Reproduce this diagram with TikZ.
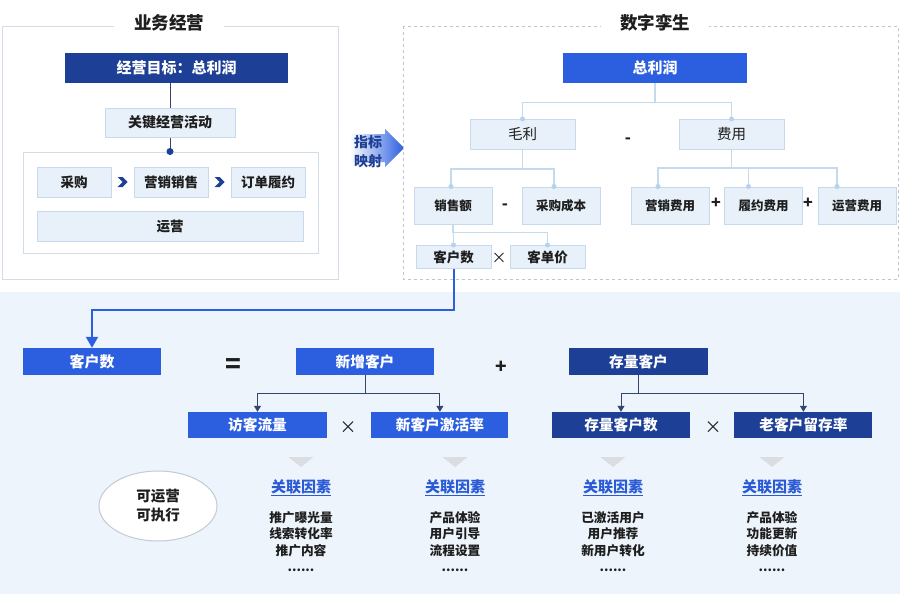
\documentclass[tikz,border=0pt]{standalone}
\usepackage{fontspec}
\setmainfont{Noto Sans CJK SC}
\usepackage{tikz}
\usetikzlibrary{shapes, arrows.meta, positioning, calc}
\definecolor{navy}{HTML}{1D3F95}
\definecolor{brightblue}{HTML}{2C5FE0}
\definecolor{lightfill}{HTML}{E8F1FA}
\definecolor{lightline}{HTML}{C6DAEE}
\definecolor{dotblue}{HTML}{B5D2EE}
\definecolor{framegray}{HTML}{D3DDE8}
\definecolor{dashgray}{HTML}{BFC5CC}
\definecolor{bgblue}{HTML}{EDF4FB}
\definecolor{treegray}{HTML}{34466E}
\definecolor{tipgray}{HTML}{DADEE3}
\definecolor{linkblue}{HTML}{2A5AD6}
\definecolor{textdark}{HTML}{1E1E1E}
\newcommand{\pxfont}[2]{\fontsize{#1}{#2}\selectfont}
\tikzstyle{darkbox} = [rectangle, fill=navy, text=white, inner sep=0pt, font=\pxfont{14.7}{15}\bfseries]
\tikzstyle{bluebox} = [rectangle, fill=brightblue, text=white, inner sep=0pt, font=\pxfont{14.7}{15}\bfseries]
\tikzstyle{block} = [rectangle, draw=lightline, fill=lightfill, line width=1pt, text=textdark, inner sep=0pt, font=\pxfont{13.5}{14}\bfseries]
\tikzstyle{smallblock} = [block, font=\pxfont{12.5}{13}\bfseries]
\tikzstyle{title} = [fill=white, inner ysep=0pt, inner xsep=20pt, text=textdark, font=\pxfont{17.5}{18}\bfseries]
\tikzstyle{sign} = [inner sep=0pt, text=textdark, font=\pxfont{16}{16}\bfseries]
\tikzstyle{treeline} = [draw=lightline, line width=1.2pt]
\tikzstyle{treedot} = [circle, fill=dotblue, inner sep=0pt, minimum size=5pt]
\tikzstyle{branch} = [draw=treegray, line width=1pt, -{Triangle[width=7pt,length=6pt]}]
\tikzstyle{bluelink} = [draw=brightblue, line width=2pt, -{Triangle[width=12pt,length=11pt]}]
\tikzstyle{linktext} = [inner sep=0pt, text=linkblue, font=\pxfont{15}{15}\bfseries]
\tikzstyle{itemtext} = [inner sep=0pt, anchor=north, align=center, text=textdark, font=\pxfont{12.7}{16.5}\bfseries]

\begin{document}
\begin{tikzpicture}[x=1pt, y=-1pt]
		\useasboundingbox (0,0) rectangle (900,594);
		\fill[white] (0,0) rectangle (900,594);
		\fill[bgblue] (0,292) rectangle (900,594);
		
		\draw[framegray, line width=1pt] (2,27) rectangle (338,279);
		\node[title] (leftTitle) at (169,23) {业务经营};
		
		\node[darkbox, minimum width=223pt, minimum height=30pt, font=\pxfont{15}{15}\bfseries] (goal) at (176.5,68) {经营目标：总利润};
		\node[block, minimum width=130pt, minimum height=29pt, font=\pxfont{14}{14}\bfseries] (activity) at (170,122.5) {关键经营活动};
		\node[draw=framegray, line width=1pt, inner sep=0pt, minimum width=295pt, minimum height=101pt] (process) at (170.5,202.5) {};
		\node[block, minimum width=74pt, minimum height=30pt] (purchase) at (74,182) {采购};
		\node[block, minimum width=74pt, minimum height=30pt, right=22pt of purchase] (marketing) {营销销售};
		\node[block, minimum width=74pt, minimum height=30pt, right=22pt of marketing] (fulfil) {订单履约};
		\node[block, minimum width=266pt, minimum height=30pt] (operation) at (170,226) {运营};
		
		\draw[treegray, line width=1pt] (activity.north) -- (activity.north |- goal.south);
		\draw[treegray, line width=1pt] (activity.south) -- (activity.south |- process.north) node[circle, fill=navy, inner sep=0pt, minimum size=7pt] (activityDot) {};
		\foreach \a/\b in {purchase/marketing, marketing/fulfil}
			\fill[navy] ($(\a.east)!0.5!(\b.west)$) ++(-5,-5) -- ++(5,0) -- ++(5,5) -- ++(-5,5) -- ++(-5,0) -- ++(5,-5) -- cycle;
		
		\shade[left color=white, right color=brightblue] (350,134) -- (385,134) -- (385,129) -- (404,148) -- (385,167) -- (385,162) -- (350,162) -- cycle;
		\node[align=center, inner sep=0pt, text=navy, font=\pxfont{14}{19}\bfseries] (mapping) at (368,152) {指标\\映射};
		
		\draw[dashgray, line width=0.8pt, dash pattern=on 3pt off 3pt] (403,26) rectangle (898,279);
		\node[title, inner xsep=19pt] (rightTitle) at (655,23) {数字孪生};
		
		\node[bluebox, minimum width=184pt, minimum height=30pt, font=\pxfont{15}{15}\bfseries] (profit) at (655,68) {总利润};
		\node[block, minimum width=105pt, minimum height=30pt, font=\pxfont{14.5}{15}] (gross) at (522.5,134.5) {毛利};
		\node[block, minimum width=105pt, minimum height=30pt, font=\pxfont{14.5}{15}, right=103pt of gross] (cost) {费用};
		\node[smallblock, minimum width=78pt, minimum height=37pt] (sales) at (453,205.5) {销售额};
		\node[smallblock, minimum width=78pt, minimum height=37pt, right=29pt of sales] (buycost) {采购成本};
		\node[smallblock, minimum width=78pt, minimum height=37pt] (mktcost) at (670,205.5) {营销费用};
		\node[smallblock, minimum width=78pt, minimum height=37pt, right=14.5pt of mktcost] (fulfilcost) {履约费用};
		\node[smallblock, minimum width=78pt, minimum height=37pt, right=14.5pt of fulfilcost] (opcost) {运营费用};
		\node[block, minimum width=75pt, minimum height=23pt] (customers) at (453.5,257) {客户数};
		\node[block, minimum width=75pt, minimum height=23pt, right=18pt of customers] (price) {客单价};
		
		\node[sign] (minusA) at (628,141) {-};
		\node[sign] (minusB) at (505,207) {-};
		\node[sign] (plusA) at (716,203) {+};
		\node[sign] (plusB) at (808,203) {+};
		\node[sign, font=\pxfont{15}{15}] (timesA) at (499,258) {×};
		
		\draw[treeline] (profit.south) -- ++(0,19) coordinate (jProfit);
		\draw[treeline] (jProfit) -| (gross.north) node[treedot] (dGross) {};
		\draw[treeline] (jProfit) -| (cost.north) node[treedot] (dCost) {};
		\draw[treeline] (gross.south) -- ++(0,19) coordinate (jGross);
		\draw[treeline] (jGross) -| ([xshift=-2pt]sales.north) node[treedot] (dSales) {};
		\draw[treeline] (jGross) -| ([xshift=-7pt]buycost.north) node[treedot] (dBuy) {};
		\draw[treeline] (cost.south) -- ++(0,18) coordinate (jCost);
		\draw[treeline] (jCost) -| ([xshift=-12pt]mktcost.north) node[treedot] (dMkt) {};
		\draw[treeline] (jCost) -| ([xshift=-15pt]fulfilcost.north) node[treedot] (dFulfil) {};
		\draw[treeline] (jCost) -| ([xshift=-20pt]opcost.north) node[treedot] (dOp) {};
		\draw[treeline] (sales.south) -- ++(0,8) coordinate (jSales);
		\draw[treeline] (jSales) -| (customers.north) node[treedot] (dCustomers) {};
		\draw[treeline] (jSales) -| (price.north) node[treedot] (dPrice) {};
		
		\node[bluebox, minimum width=138pt, minimum height=27pt, font=\pxfont{15}{15}\bfseries] (customerTotal) at (92,361.5) {客户数};
		\node[bluebox, minimum width=138pt, minimum height=27pt] (newCustomers) at (365,361.5) {新增客户};
		\node[darkbox, minimum width=139pt, minimum height=27pt] (stockCustomers) at (638.5,361.5) {存量客户};
		\node[bluebox, minimum width=139pt, minimum height=26pt] (visitors) at (257.5,425) {访客流量};
		\node[bluebox, minimum width=137pt, minimum height=26pt, right=44pt of visitors] (activation) {新客户激活率};
		\node[darkbox, minimum width=138pt, minimum height=26pt] (stockCount) at (621,425) {存量客户数};
		\node[darkbox, minimum width=138pt, minimum height=26pt, right=44pt of stockCount] (retention) {老客户留存率};
		
		\node[sign, font=\pxfont{26}{26}\bfseries] (equals) at (233,366) {=};
		\node[sign, font=\pxfont{19}{19}\bfseries] (plusC) at (501,367) {+};
		\node[sign, font=\pxfont{17}{17}] (timesB) at (348,428) {×};
		\node[sign, font=\pxfont{17}{17}] (timesC) at (713,428) {×};
		
		\draw[bluelink] (customers.south) -- ++(0,41) -| (customerTotal.north);
		\draw[treegray, line width=1pt] (newCustomers.south) -- ++(0,18) coordinate (jNew);
		\draw[branch] (jNew) -| (visitors.north);
		\draw[branch] (jNew) -| (activation.north);
		\draw[treegray, line width=1pt] (stockCustomers.south) -- ++(0,18) coordinate (jStock);
		\draw[branch] (jStock) -| (stockCount.north);
		\draw[branch] (jStock) -| (retention.north);
		
		\node[ellipse, draw=framegray!80!gray, fill=white, line width=1pt, minimum width=118pt, minimum height=70pt, align=center, text=textdark, font=\pxfont{14.5}{19}\bfseries] (operable) at (158,506) {可运营\\可执行};
		
		\foreach \x/\a/\b/\c in {301/推广曝光量/线索转化率/推广内容, 455/产品体验/用户引导/流程设置, 613/已激活用户/用户推荐/新用户转化, 772/产品体验/功能更新/持续价值}{
			\fill[tipgray] (\x-12.5,457) -- (\x+12.5,457) -- (\x,467) -- cycle;
			\node[linktext] (factor\x) at (\x,488) {\underline{关联因素}};
			\node[itemtext] (items\x) at (\x,511) {\a\\\b\\\c\\......};
		}
		
	\end{tikzpicture}
\end{document}
